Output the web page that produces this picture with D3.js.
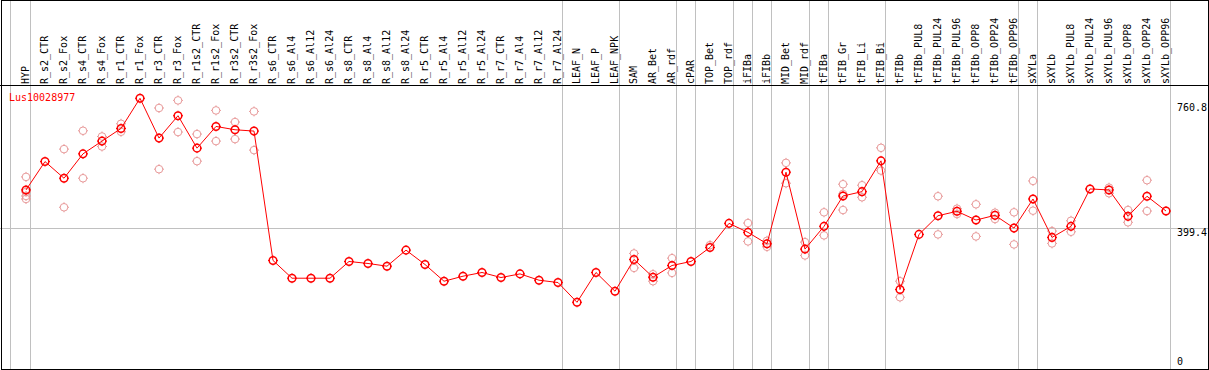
<!DOCTYPE html>
<html lang="en">
<head>
    <meta charset="UTF-8">
    <title>Lus10028977 - expression profile</title>
    <script src="https://d3js.org/d3.v7.min.js"></script>
    <style>
        body { margin: 0; background: #fff; }
        svg text { font-family: "DejaVu Sans Mono", monospace; font-size: 10px; }
    </style>
</head>
<body>
    <div id="chart"></div>
    <script>
        // gene shown in the plot
        const geneName = "Lus10028977";

        // sample names (x axis)
        const samples = [
            "HYP", "R_s2_CTR", "R_s2_Fox", "R_s4_CTR", "R_s4_Fox", "R_r1_CTR", "R_r1_Fox",
            "R_r3_CTR", "R_r3_Fox", "R_r1s2_CTR", "R_r1s2_Fox", "R_r3s2_CTR", "R_r3s2_Fox",
            "R_s6_CTR", "R_s6_Al4", "R_s6_Al12", "R_s6_Al24", "R_s8_CTR", "R_s8_Al4", "R_s8_Al12",
            "R_s8_Al24", "R_r5_CTR", "R_r5_Al4", "R_r5_Al12", "R_r5_Al24", "R_r7_CTR", "R_r7_Al4",
            "R_r7_Al12", "R_r7_Al24", "LEAF_N", "LEAF_P", "LEAF_NPK", "SAM", "AR_Bet", "AR_rdf",
            "cPAR", "TOP_Bet", "TOP_rdf", "iFIBa", "iFIBb", "MID_Bet", "MID_rdf", "tFIBa",
            "tFIB_Gr", "tFIB_Li", "tFIB_Bi", "tFIBb", "tFIBb_PUL8", "tFIBb_PUL24", "tFIBb_PUL96",
            "tFIBb_OPP8", "tFIBb_OPP24", "tFIBb_OPP96", "sXYLa", "sXYLb", "sXYLb_PUL8",
            "sXYLb_PUL24", "sXYLb_PUL96", "sXYLb_OPP8", "sXYLb_OPP24", "sXYLb_OPP96"
        ];

        // mean expression per sample
        const means = [
            505.6, 584.6, 538.2, 606.1, 641.6, 676.8, 760.8,
            650.0, 712.3, 622.0, 682.4, 673.2, 669.5,
            309.2, 259.8, 259.8, 259.8, 306.4, 300.8, 293.3,
            338.0, 298.0, 251.4, 265.4, 275.7, 261.7, 271.8,
            254.2, 247.8, 192.7, 275.7, 223.5, 312.0, 262.6, 295.2,
            306.4, 345.5, 412.5, 387.4, 355.6, 555.0, 340.8, 404.2,
            488.8, 500.8, 586.6, 228.2, 381.8, 433.8, 446.1,
            421.8, 434.9, 399.4, 480.4, 373.4, 404.2,
            508.4, 505.6, 432.1, 488.0, 446.9
        ];

        // individual replicates (only the ones that don't sit under the mean)
        const replicates = [
            [541.9, 500.0, 488.8, 480.4], [], [619.3, 457.3], [670.4, 538.2], [654.5, 626.5], [689.9, 667.6], [],
            [733.8, 563.4], [755.0, 666.8], [661.2, 585.7], [727.1, 641.6], [694.7, 647.2], [724.3, 616.5],
            [], [], [], [], [], [], [],
            [], [], [], [], [], [], [],
            [], [], [], [], [], [328.8, 288.5], [270.9, 251.4], [315.6, 274.6],
            [], [351.9], [], [413.4, 362.3], [364.0, 347.2], [581.0, 524.3], [360.3, 323.2], [443.3, 379.1],
            [521.5, 449.7, 494.4], [518.7, 485.2], [622.9, 559.5], [251.4, 206.7], [], [488.0, 381.8], [453.4, 438.5],
            [465.6, 376.2], [442.2, 424.6], [443.3, 353.9], [530.7, 447.8], [391.1, 356.7], [419.8, 389.1],
            [], [512.0, 496.4], [449.7, 415.4], [532.7, 446.9], []
        ];

        // last sample of each tissue group (a separator is drawn after it)
        const groupEnds = ["HYP", "R_r7_Al24", "LEAF_NPK", "AR_rdf", "cPAR", "TOP_rdf", "iFIBa",
            "iFIBb", "MID_rdf", "tFIBa", "tFIB_Bi", "tFIBb_OPP96", "sXYLa", "sXYLb_OPP96"];

        // labels on the right side
        const yTicks = [760.8, 399.4, 0];

        const width = 1209, height = 370;
        const headerBottom = 85;

        const svg = d3.select("#chart")
            .append("svg")
            .attr("width", width)
            .attr("height", height);

        // scales
        const x = d3.scaleBand()
            .domain(samples)
            .range([11.5, 1170.5]);
        const px = d => x(d) + 14.5;

        const y = d3.scaleLinear()
            .domain([0, d3.max(means)])
            .range([371.5, 98.3]);

        // group separators
        const sepX = [x(samples[0]) - 1].concat(groupEnds.map(g => x(g) + x.step()));
        svg.selectAll(".sep")
            .data(sepX)
            .enter().append("line")
            .attr("x1", d => d).attr("x2", d => d)
            .attr("y1", 0).attr("y2", height)
            .attr("stroke", "#c0c0c0");

        // middle grid line
        const yMid = Math.round(y(yTicks[1])) + 0.5;
        svg.append("line")
            .attr("x1", 0).attr("x2", width)
            .attr("y1", yMid).attr("y2", yMid)
            .attr("stroke", "#c0c0c0");

        // header line + frame
        svg.append("line")
            .attr("x1", 0).attr("x2", width)
            .attr("y1", headerBottom + 0.5).attr("y2", headerBottom + 0.5)
            .attr("stroke", "#000");
        svg.append("rect")
            .attr("x", 1.5).attr("y", 0.5)
            .attr("width", width - 2).attr("height", height - 1)
            .attr("fill", "none")
            .attr("stroke", "#000");

        // small target marker: circle with four short ticks
        function marker(g, color, sw) {
            const r = 3.8;
            g.append("circle")
                .attr("r", r)
                .attr("fill", "none")
                .attr("stroke", color)
                .attr("stroke-width", sw);
            g.append("path")
                .attr("d", `M0,${-r - 1.2}V${-r}M0,${r}V${r + 1.2}M${-r - 1.2},0H${-r}M${r},0H${r + 1.2}`)
                .attr("stroke", color)
                .attr("stroke-width", 1);
        }

        // replicates
        const reps = [];
        samples.forEach((s, i) => replicates[i].forEach(v => reps.push({ s, v })));
        svg.selectAll(".rep")
            .data(reps)
            .enter().append("g")
            .attr("class", "rep")
            .attr("transform", d => `translate(${px(d.s)},${y(d.v)})`)
            .each(function() { marker(d3.select(this), "#e89a9a", 1); });

        // mean line
        const line = d3.line()
            .x((d, i) => px(samples[i]))
            .y(d => y(d));
        svg.append("path")
            .datum(means)
            .attr("d", line)
            .attr("fill", "none")
            .attr("stroke", "#ff0000")
            .attr("stroke-width", 1);

        // mean markers
        svg.selectAll(".mean")
            .data(means)
            .enter().append("g")
            .attr("class", "mean")
            .attr("transform", (d, i) => `translate(${px(samples[i])},${y(d)})`)
            .each(function() { marker(d3.select(this), "#ff0000", 1.5); });

        // sample labels (vertical)
        svg.selectAll(".lbl")
            .data(samples)
            .enter().append("text")
            .attr("class", "lbl")
            .attr("transform", d => `translate(${px(d) + 3},${headerBottom - 1}) rotate(-90)`)
            .attr("fill", "#000")
            .text(d => d);

        // right side value labels, kept inside the plot
        svg.selectAll(".ylbl")
            .data(yTicks)
            .enter().append("text")
            .attr("class", "ylbl")
            .attr("x", 1177)
            .attr("y", d => Math.min(Math.max(y(d) + 8, headerBottom + 26), height - 5))
            .attr("fill", "#000")
            .text(d => d);

        // gene name
        svg.append("text")
            .attr("x", 9)
            .attr("y", 101)
            .attr("fill", "#ff0000")
            .text(geneName);
    </script>
</body>
</html>
